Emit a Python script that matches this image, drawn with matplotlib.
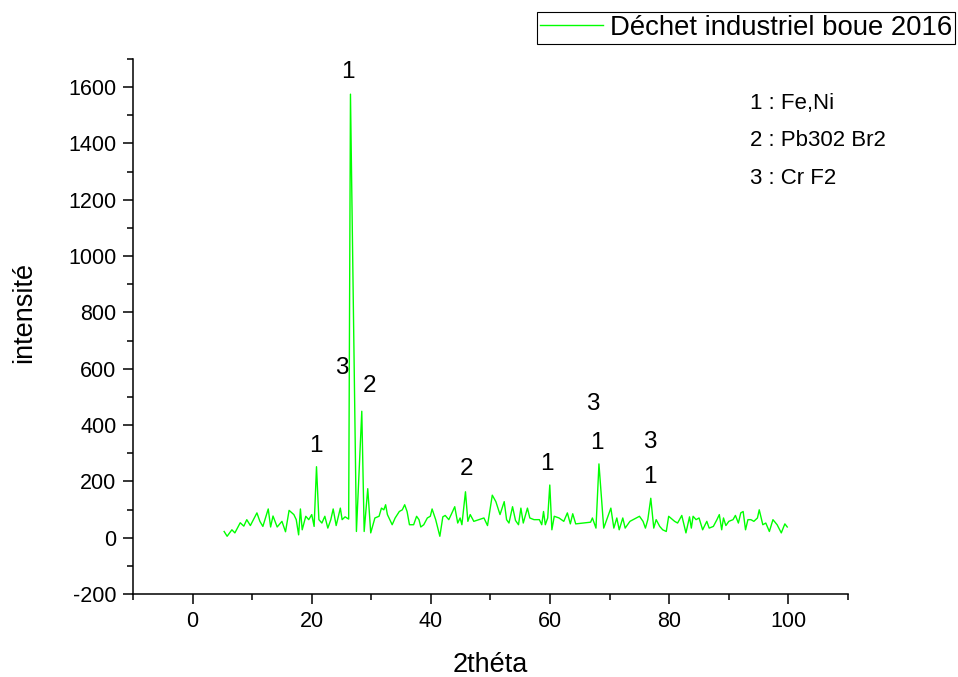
import matplotlib
matplotlib.use("Agg")
import matplotlib.pyplot as plt
from matplotlib.ticker import MultipleLocator

plt.rcParams['font.family'] = ['Liberation Sans', 'DejaVu Sans']
plt.rcParams['axes.unicode_minus'] = False

# diffractogram (2theta, intensity)
two_theta = [5.3, 5.8, 6.6, 7.1, 8.0, 8.6, 9.1, 9.7, 10.8, 11.3, 11.8, 12.7, 13.1, 13.5, 14.2,
             15.0, 15.6, 16.2, 17.0, 17.4, 17.8, 18.1, 18.4, 19.0, 19.5, 20.0, 20.4, 20.8, 21.2,
             21.7, 22.2, 22.7, 23.2, 23.6, 24.1, 24.8, 25.1, 25.6, 26.2, 26.5, 27.5, 28.4, 28.8,
             29.4, 29.9, 30.6, 31.3, 31.7, 32.1, 32.4, 32.7, 33.5, 34.0, 34.7, 35.2, 35.6, 36.0,
             36.4, 37.1, 37.6, 38.0, 38.3, 38.8, 39.4, 39.9, 40.2, 40.8, 41.5, 42.0, 42.4, 43.0,
             43.4, 44.0, 44.5, 44.9, 45.2, 45.8, 46.2, 46.6, 47.2, 48.9, 49.5, 50.3, 50.9, 51.6,
             52.3, 52.7, 53.1, 53.7, 54.2, 54.7, 55.1, 55.5, 56.2, 56.6, 57.3, 58.2, 58.6, 58.9,
             59.2, 59.6, 59.95, 60.3, 60.7, 61.5, 62.3, 62.9, 63.4, 63.8, 64.3, 66.8, 67.1, 67.7,
             68.2, 69.0, 70.2, 70.7, 71.2, 71.6, 72.2, 72.6, 73.0, 73.4, 75.0, 75.6, 76.0, 76.4,
             76.9, 77.4, 77.8, 78.4, 78.9, 79.5, 79.9, 80.9, 81.4, 82.1, 82.8, 83.4, 83.7, 84.0,
             84.5, 85.0, 85.6, 86.3, 86.7, 87.4, 88.0, 88.4, 88.8, 89.1, 89.5, 90.0, 90.7, 91.1,
             91.6, 92.0, 92.4, 92.8, 93.2, 93.7, 94.2, 94.8, 95.1, 95.7, 96.2, 96.8, 97.4, 98.1,
             98.8, 99.4, 99.8]
intensity = [22, 5, 28, 17, 53, 41, 64, 43, 88, 58, 40, 102, 38, 77, 38,
             58, 21, 97, 82, 64, 10, 102, 28, 76, 64, 82, 40, 252, 64,
             52, 76, 34, 64, 102, 43, 105, 64, 74, 66, 1575, 22, 449, 22,
             174, 17, 70, 76, 105, 99, 117, 82, 46, 70, 93, 99, 117, 93,
             46, 46, 76, 64, 38, 46, 70, 76, 102, 64, 5, 74, 79, 64,
             82, 110, 52, 70, 46, 163, 58, 82, 58, 70, 43, 151, 128, 82,
             128, 64, 52, 110, 61, 46, 105, 52, 105, 70, 64, 64, 46, 93,
             46, 70, 187, 28, 76, 70, 58, 88, 49, 85, 49, 55, 70, 34,
             262, 34, 105, 34, 70, 28, 70, 34, 46, 58, 76, 58, 34, 64,
             140, 34, 64, 40, 28, 22, 76, 58, 52, 79, 17, 74, 34, 76,
             64, 70, 28, 58, 34, 40, 64, 82, 28, 70, 43, 58, 64, 79,
             52, 88, 93, 28, 64, 64, 58, 70, 99, 46, 52, 22, 64, 46,
             17, 49, 38]

# peak labels: (text, 2theta, intensity)
peak_text = ["1", "3", "2", "1", "2", "1", "3", "1", "3", "1"]
peak_x = [26.1, 25.0, 29.7, 20.7, 45.9, 59.5, 67.2, 67.9, 76.8, 76.8]
peak_y = [1653, 604, 537, 324, 245, 263, 473, 338, 341, 217]

phases = ["1 : Fe,Ni", "2 : Pb302 Br2", "3 : Cr F2"]

fig = plt.figure(figsize=(9.58, 6.77), dpi=100)
ax = fig.add_axes([0.1388, 0.1226, 0.7464, 0.7903])

ax.plot(two_theta, intensity, color="#00FF00", lw=1.0, label="Déchet industriel boue 2016")

for t, px, py in zip(peak_text, peak_x, peak_y):
    ax.text(px, py, t, ha="center", va="center", fontsize=17.5)

for i, p in enumerate(phases):
    ax.text(93.6, 1543 - i * 133, p, ha="left", va="center", fontsize=16)

ax.set_xlim(-10, 110)
ax.set_ylim(-200, 1700)
ax.xaxis.set_major_locator(MultipleLocator(20))
ax.xaxis.set_minor_locator(MultipleLocator(10))
ax.yaxis.set_major_locator(MultipleLocator(200))
ax.yaxis.set_minor_locator(MultipleLocator(100))
ax.spines["top"].set_visible(False)
ax.spines["right"].set_visible(False)
for s in ["left", "bottom"]:
    ax.spines[s].set_linewidth(1.1)
ax.tick_params(which="major", direction="out", length=7, width=1.1, labelsize=15.5, pad=5)
ax.tick_params(which="minor", direction="out", length=4, width=1.1)

ax.set_xlabel("2théta", fontsize=19.5, va="center")
ax.set_ylabel("intensité", fontsize=19.5, va="center")
ax.xaxis.set_label_coords(0.5, -0.133)
ax.yaxis.set_label_coords(-0.152, 0.527)

leg = ax.legend(loc="upper right", bbox_to_anchor=(955 / 958, 1 - 12 / 677),
                bbox_transform=fig.transFigure, fontsize=19.8, fancybox=False,
                framealpha=1, edgecolor="black", handlelength=2.3,
                borderpad=0.1, borderaxespad=0, handletextpad=0.25)
leg.get_frame().set_linewidth(0.8)

fig.savefig("out.png", dpi=100)
